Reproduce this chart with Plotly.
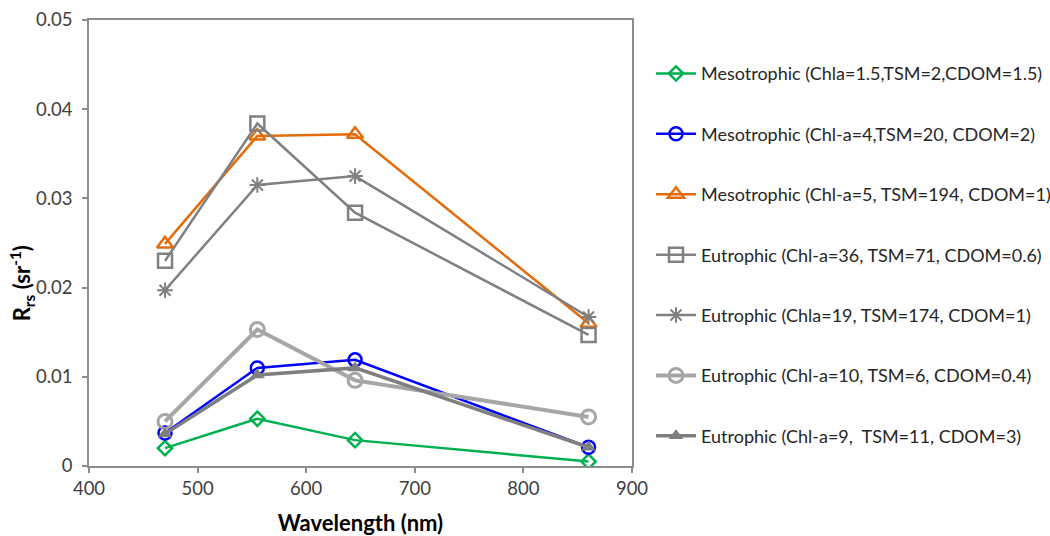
import plotly.graph_objects as go

# Wavelengths of the four sensor bands (nm)
wavelength = [470, 555, 645, 860]

# Remote-sensing reflectance per water type (sr^-1)
meso_1 = [0.0020, 0.0053, 0.0029, 0.0005]
meso_2 = [0.0037, 0.0110, 0.0119, 0.0021]
meso_3 = [0.0249, 0.0370, 0.0372, 0.0160]
eutro_1 = [0.0230, 0.0384, 0.0284, 0.0147]
eutro_2 = [0.0197, 0.0315, 0.0325, 0.0167]
eutro_3 = [0.0050, 0.0153, 0.0096, 0.0055]
eutro_4 = [0.0036, 0.0102, 0.0110, 0.0021]

names = [
    "Mesotrophic (Chla=1.5,TSM=2,CDOM=1.5)",
    "Mesotrophic (Chl-a=4,TSM=20, CDOM=2)",
    "Mesotrophic (Chl-a=5, TSM=194, CDOM=1)",
    "Eutrophic (Chl-a=36, TSM=71, CDOM=0.6)",
    "Eutrophic (Chla=19, TSM=174, CDOM=1)",
    "Eutrophic (Chl-a=10, TSM=6, CDOM=0.4)",
    "Eutrophic (Chl-a=9,  TSM=11, CDOM=3)",
]
series = [meso_1, meso_2, meso_3, eutro_1, eutro_2, eutro_3, eutro_4]

styles = [
    dict(color="#00B050", width=2.5, symbol="diamond-open", size=11, mlw=2.5),
    dict(color="#0000FF", width=2.5, symbol="circle-open", size=13, mlw=2.5),
    dict(color="#E46C0A", width=2.5, symbol="triangle-up-open", size=14, mlw=2.5),
    dict(color="#808080", width=2.5, symbol="square-open", size=14, mlw=2.5),
    dict(color="#808080", width=2.5, symbol="asterisk-open", size=13, mlw=2),
    dict(color="#A6A6A6", width=4, symbol="circle-open", size=14, mlw=3),
    dict(color="#7F7F7F", width=3.5, symbol="triangle-up", size=13, mlw=0),
]

FONT = "Lato, Open Sans, sans-serif"

fig = go.Figure()
for i, (name, vals, st) in enumerate(zip(names, series, styles)):
    fig.add_trace(go.Scatter(
        x=wavelength, y=vals, name=name, mode="lines+markers",
        legendgroup=f"g{i}",
        line=dict(color=st["color"], width=st["width"]),
        marker=dict(symbol=st["symbol"], size=st["size"], color=st["color"],
                    line=dict(color=st["color"], width=st["mlw"])),
    ))

axis_common = dict(
    showgrid=False, zeroline=False, showline=True, linecolor="#8C8C8C",
    linewidth=1.5, mirror=True, ticks="outside", ticklen=5,
    tickcolor="#8C8C8C", tickwidth=1.5, automargin=False,
    tickfont=dict(family=FONT, size=18.5, color="#404040"),
)

fig.update_layout(
    width=1050, height=536,
    margin=dict(l=89, r=418, t=20, b=70, autoexpand=False),
    paper_bgcolor="white", plot_bgcolor="white",
    xaxis=dict(range=[400, 900], dtick=100, **axis_common,
               title=dict(text="<b>Wavelength (nm)</b>", standoff=20,
                          font=dict(family=FONT, size=22, color="black"))),
    yaxis=dict(range=[0, 0.05], dtick=0.01, tickformat="~g", ticklabelstandoff=6,
               **axis_common),
    legend=dict(x=1.035, y=0.921, xanchor="left", yanchor="top",
                font=dict(family=FONT, size=18, color="#262626"),
                tracegroupgap=34, itemwidth=40, bgcolor="rgba(0,0,0,0)"),
)

# Vertical axis title, placed beside the tick labels
fig.add_annotation(
    text="<b>R<sub>rs</sub> (sr<sup>-1</sup>)</b>", textangle=-90,
    xref="paper", yref="paper", x=-0.123, y=0.41, xanchor="center", yanchor="middle",
    showarrow=False, font=dict(family=FONT, size=22, color="black"),
)

fig.write_html("out.html")
